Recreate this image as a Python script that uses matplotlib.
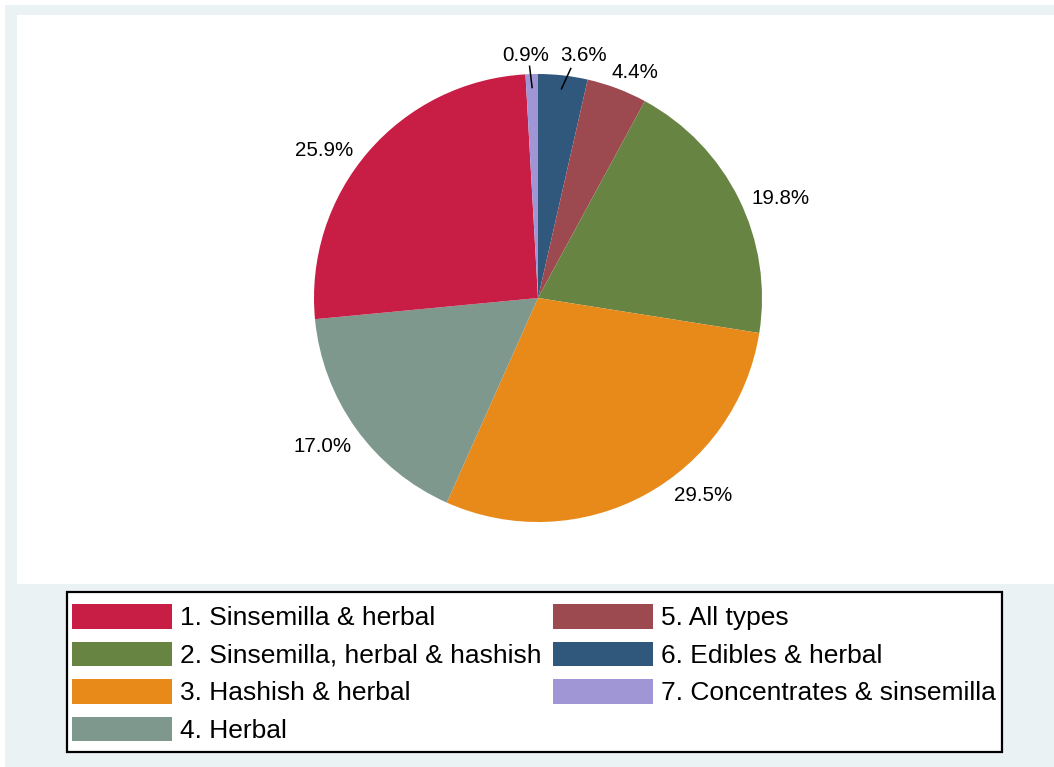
import numpy as np
import matplotlib
matplotlib.use("Agg")
import matplotlib.pyplot as plt
from matplotlib.patches import Rectangle

plt.rcParams["font.family"] = ["Liberation Sans", "DejaVu Sans"]

# Category names (legend order) and their shares in percent
categories = [
    "1. Sinsemilla & herbal",
    "2. Sinsemilla, herbal & hashish",
    "3. Hashish & herbal",
    "4. Herbal",
    "5. All types",
    "6. Edibles & herbal",
    "7. Concentrates & sinsemilla",
]
shares = [25.9, 19.8, 29.5, 17.0, 4.4, 3.6, 0.9]
colors = ["#C81E45", "#678442", "#E88A1A", "#7E988D", "#9D4950", "#30577C", "#A096D6"]

# Slices are laid out clockwise from 12 o'clock in this order (indices into the lists above)
slice_order = [5, 4, 1, 2, 3, 0, 6]

# Label placement tweaks per category: angular shift (deg), radius (in pie radii), leader line
label_shift = [6.2, -3.9, 11.5, -1.1, -2.6, -4.3, 1.2]
label_radius = [1.16, 1.17, 1.15, 1.17, 1.095, 1.10, 1.086]
leader = [False, False, False, False, False, True, True]

W, H = 1054, 767
fig = plt.figure(figsize=(W / 100, H / 100), dpi=100, facecolor="white")

# Outer light panel and white plot region
fig.patches.append(Rectangle((5 / W, 0), 1 - 5 / W, 1 - 5 / H, transform=fig.transFigure,
                             facecolor="#EAF2F3", edgecolor="none", zorder=-3))
fig.patches.append(Rectangle((17 / W, 1 - 584 / H), 1 - 17 / W, (584 - 15) / H,
                             transform=fig.transFigure, facecolor="white",
                             edgecolor="none", zorder=-2))

# Pie axes: centred at (538, 298) px, radius 224 px
half = 300
ax = fig.add_axes([(538 - half) / W, (H - 298 - half) / H, 2 * half / W, 2 * half / H])
ax.set_facecolor("none")

vals = [shares[i] for i in slice_order]
cols = [colors[i] for i in slice_order]
wedges, _ = ax.pie(vals, colors=cols, startangle=90, counterclock=False, radius=1,
                   wedgeprops=dict(linewidth=0))

lim = half / 224
ax.set_xlim(-lim, lim)
ax.set_ylim(-lim, lim)
ax.set_aspect("equal")
ax.axis("off")

for w, idx in zip(wedges, slice_order):
    mid = 0.5 * (w.theta1 + w.theta2)
    ang = np.deg2rad(mid + label_shift[idx])
    r = label_radius[idx]
    ax.text(r * np.cos(ang), r * np.sin(ang), f"{shares[idx]:.1f}%",
            ha="center", va="center", fontsize=14.8, color="black")
    if leader[idx]:
        a0 = np.deg2rad(mid)
        a1 = np.deg2rad(mid + 0.4 * label_shift[idx])
        ax.plot([0.94 * np.cos(a0), 1.035 * np.cos(a1)],
                [0.94 * np.sin(a0), 1.035 * np.sin(a1)], color="black", lw=1.1)

# Legend box (white with black border)
fig.patches.append(Rectangle((67 / W, 1 - 752 / H), (1002 - 67) / W, (752 - 592) / H,
                             transform=fig.transFigure, facecolor="white",
                             edgecolor="black", linewidth=1.6, zorder=-1))

# Legend in category order, two columns
by_cat = {idx: w for w, idx in zip(wedges, slice_order)}
handles = [by_cat[i] for i in range(len(categories))]
leg = fig.legend(handles, categories, ncol=2, loc="upper left",
                 bbox_to_anchor=(72 / W, 1 - 604 / H), borderaxespad=0,
                 fontsize=19, handlelength=3.79, handleheight=1.06,
                 handletextpad=0.3, labelspacing=0.425, columnspacing=0.44,
                 borderpad=0, frameon=False)

fig.savefig("out.png", dpi=100, facecolor="white")
